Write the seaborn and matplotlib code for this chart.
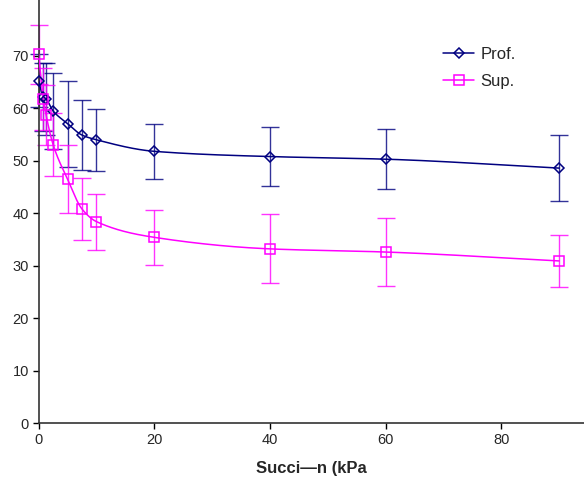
import numpy as np
import pandas as pd
import matplotlib
matplotlib.use("Agg")
import matplotlib.pyplot as plt
import seaborn as sns
from matplotlib.lines import Line2D

# Suction steps (kPa) and water content for the two layers
suction = [0, 0.8, 1.3, 2.5, 5, 7.5, 10, 20, 40, 60, 90]
prof = [65.3, 62.2, 61.8, 59.5, 57.1, 54.9, 54.0, 51.8, 50.8, 50.3, 48.6]
prof_err = [5.1, 6.5, 6.8, 7.3, 8.2, 6.6, 5.9, 5.3, 5.6, 5.7, 6.3]
sup = [70.3, 61.8, 58.7, 53.1, 46.5, 40.8, 38.4, 35.4, 33.2, 32.6, 30.9]
sup_err = [5.6, 5.9, 5.7, 6.1, 6.5, 6.0, 5.35, 5.25, 6.6, 6.5, 5.0]
series_names = ["Prof.", "Sup."]
x_ticks = [0, 20, 40, 60, 80]
y_ticks = [0, 10, 20, 30, 40, 50, 60, 70]

NAVY = "#000080"
MAGENTA = "#FF00FF"


def monotone_curve(x, y, n=600):
    """Smooth monotone cubic (Fritsch-Carlson) through the points."""
    x = np.asarray(x, float)
    y = np.asarray(y, float)
    h = np.diff(x)
    delta = np.diff(y) / h
    m = np.zeros_like(y)
    m[0], m[-1] = delta[0], delta[-1]
    for k in range(1, len(x) - 1):
        if delta[k - 1] * delta[k] <= 0:
            m[k] = 0.0
        else:
            w1 = 2 * h[k] + h[k - 1]
            w2 = h[k] + 2 * h[k - 1]
            m[k] = (w1 + w2) / (w1 / delta[k - 1] + w2 / delta[k])
    xs = np.linspace(x[0], x[-1], n)
    xs = np.unique(np.concatenate([xs, x]))
    idx = np.clip(np.searchsorted(x, xs, side="right") - 1, 0, len(x) - 2)
    t = (xs - x[idx]) / h[idx]
    h00 = 2 * t**3 - 3 * t**2 + 1
    h10 = t**3 - 2 * t**2 + t
    h01 = -2 * t**3 + 3 * t**2
    h11 = t**3 - t**2
    ys = (h00 * y[idx] + h10 * h[idx] * m[idx]
          + h01 * y[idx + 1] + h11 * h[idx] * m[idx + 1])
    return xs, ys


sns.set_style("ticks")
plt.rcParams["font.family"] = ["Liberation Sans", "DejaVu Sans"]

fig = plt.figure(figsize=(5.84, 4.86), dpi=100)
ax = fig.add_axes([0.0661, 0.1296, 0.9339, 0.8704])

for vals, errs, color, marker, msize in [
    (prof, prof_err, NAVY, "D", 5.6),
    (sup, sup_err, MAGENTA, "s", 7.5),
]:
    cx, cy = monotone_curve(suction, vals)
    curve = pd.DataFrame({"x": cx, "y": cy})
    sns.lineplot(data=curve, x="x", y="y", ax=ax, color=color, lw=1.1,
                 sort=False, estimator=None, zorder=3)
    ax.errorbar(suction, vals, yerr=errs, fmt="none", ecolor=color,
                elinewidth=1.0, capsize=6.5, capthick=1.0, alpha=0.8,
                zorder=2, clip_on=False)
    ax.plot(suction, vals, ls="none", marker=marker, ms=msize,
            mfc="none", mec=color, mew=1.1, zorder=4, clip_on=False)

ax.set_xlim(0, 94.3)
ax.set_ylim(0, 80.65)
ax.set_xticks(x_ticks)
ax.set_yticks(y_ticks)
ax.tick_params(axis="both", labelsize=10.5, length=4, width=1.0,
               direction="out", color="black", pad=3)
for s in ["top", "right"]:
    ax.spines[s].set_visible(False)
for s in ["left", "bottom"]:
    ax.spines[s].set_color("#333333")
    ax.spines[s].set_linewidth(1.2)

ax.set_xlabel("Succi\u2014n (kPa", fontsize=12, fontweight="bold",
              labelpad=10)
ax.set_ylabel("")

handles = [
    Line2D([], [], color=NAVY, lw=1.1, marker="D", ms=5.6, mfc="none",
           mec=NAVY, mew=1.1),
    Line2D([], [], color=MAGENTA, lw=1.1, marker="s", ms=7.5, mfc="none",
           mec=MAGENTA, mew=1.1),
]
fig.legend(handles, series_names, loc="upper left",
           bbox_to_anchor=(0.758, 0.904), frameon=False, fontsize=12,
           handlelength=1.9, handletextpad=0.35, labelspacing=0.75,
           borderpad=0, borderaxespad=0, numpoints=1)

fig.savefig("out.png", dpi=100)
